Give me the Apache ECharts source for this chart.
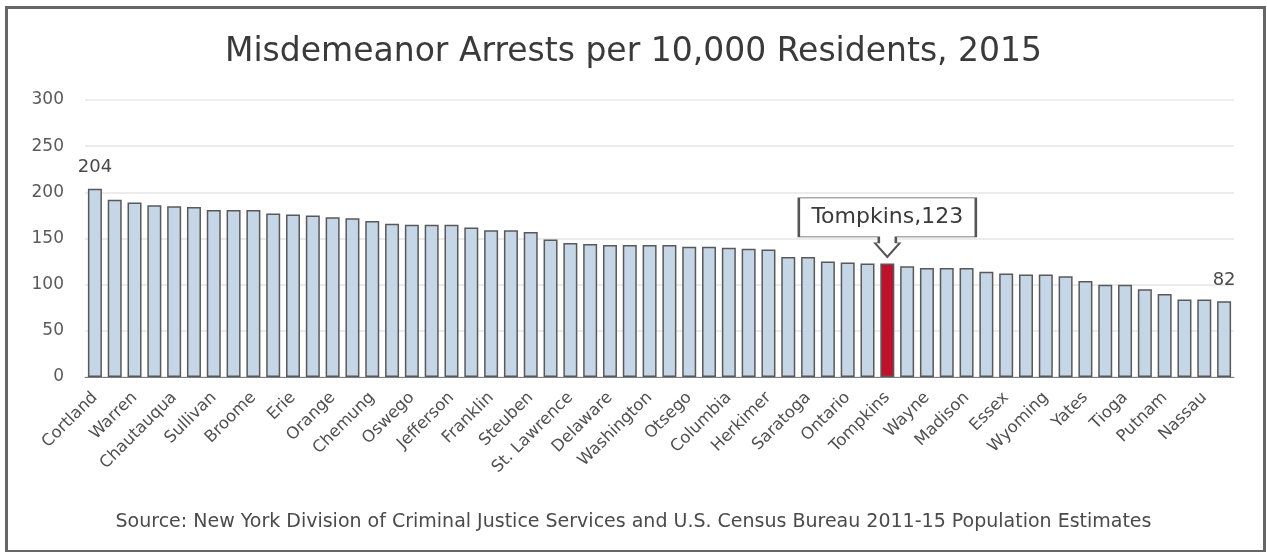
<!DOCTYPE html>
<html>
<head>
<meta charset="utf-8">
<title>Misdemeanor Arrests per 10,000 Residents, 2015</title>
<script src="https://cdn.jsdelivr.net/npm/echarts@6/dist/echarts.min.js"></script>
<style>
  html, body { margin: 0; padding: 0; background: #fff; }
  #main { width: 1267px; height: 552px; }
</style>
</head>
<body>
<div id="main"></div>
<script>
// counties, sorted by rate (every other name is shown on the axis)
var counties = [
  'Cortland', 'Niagara', 'Warren', 'Fulton', 'Chautauqua', 'Cattaraugus', 'Sullivan', 'Clinton',
  'Broome', 'Greene', 'Erie', 'Chenango', 'Orange', 'Montgomery', 'Chemung', 'Oneida',
  'Oswego', 'Schenectady', 'Jefferson', 'Albany', 'Franklin', 'Rensselaer', 'Steuben', 'Seneca',
  'St. Lawrence', 'Cayuga', 'Delaware', 'Allegany', 'Washington', 'Genesee', 'Otsego', 'Monroe',
  'Columbia', 'Ulster', 'Herkimer', 'Onondaga', 'Saratoga', 'Orleans', 'Ontario', 'Schuyler',
  'Tompkins', 'Lewis', 'Wayne', 'Dutchess', 'Madison', 'Livingston', 'Essex', 'Schoharie',
  'Wyoming', 'Hamilton', 'Yates', 'Suffolk', 'Tioga', 'New York City', 'Putnam', 'Westchester',
  'Nassau', 'Rockland'
];
var arrests = [
  204, 192, 189, 186, 185, 184, 181, 181,
  181, 177, 176, 175, 173, 172, 169, 166,
  165, 165, 165, 162, 159, 159, 157, 149,
  145, 144, 143, 143, 143, 143, 141, 141,
  140, 139, 138, 130, 130, 125, 124, 123,
  123, 120, 118, 118, 118, 114, 112, 111,
  111, 109, 104, 100, 100, 95, 90, 84,
  84, 82
];
var yTicks = [0, 50, 100, 150, 200, 250, 300];
var highlight = 'Tompkins';
var titleText = 'Misdemeanor Arrests per 10,000 Residents, 2015';
var sourceText = 'Source: New York Division of Criminal Justice Services and U.S. Census Bureau 2011-15 Population Estimates';

var fontName = 'DejaVu Sans';
var chart = echarts.init(document.getElementById('main'));

var hiIndex = counties.indexOf(highlight);
var lastIndex = arrests.length - 1;
var barData = arrests.map(function (v, i) {
  var item = { value: v };
  if (i === hiIndex) {
    item.itemStyle = { color: '#c0102c' };
  }
  if (i === 0 || i === lastIndex) {
    item.label = { show: true };
  }
  return item;
});

// callout box with a hollow arrow under it
var calloutPath = 'path://M0,0 H177 V39 H97 V45 H101 L88.5,59 L76,45 H80 V39 H0 Z';

var option = {
  backgroundColor: '#fff',
  animation: false,
  title: {
    text: titleText,
    left: 'center',
    top: 31,
    textStyle: {
      fontFamily: fontName,
      fontWeight: 'normal',
      fontSize: 33,
      color: '#3a3a3a'
    }
  },
  grid: {
    left: 85,
    right: 33,
    top: 100,
    bottom: 175,
    containLabel: false
  },
  xAxis: {
    type: 'category',
    data: counties,
    axisTick: { show: false },
    axisLine: { lineStyle: { color: '#7f7f7f', width: 1 } },
    axisLabel: {
      interval: 1,
      rotate: 45,
      margin: 18,
      fontFamily: fontName,
      fontSize: 16.5,
      color: '#505050'
    }
  },
  yAxis: {
    type: 'value',
    min: yTicks[0],
    max: yTicks[yTicks.length - 1],
    interval: yTicks[1] - yTicks[0],
    axisLine: { show: false },
    axisTick: { show: false },
    splitLine: { lineStyle: { color: '#e6e6e6', width: 1.5 } },
    axisLabel: {
      margin: 21,
      fontFamily: fontName,
      fontSize: 17,
      color: '#5a5a5a'
    }
  },
  series: [
    {
      type: 'bar',
      data: barData,
      barWidth: 14,
      itemStyle: {
        color: '#c5d6e6',
        borderColor: '#595959',
        borderWidth: 1.5
      },
      label: {
        show: false,
        position: 'top',
        distance: 12,
        fontFamily: fontName,
        fontSize: 18,
        color: '#4a4a4a'
      },
      markPoint: {
        symbol: calloutPath,
        symbolSize: [177, 59],
        symbolOffset: [0, -36],
        itemStyle: {
          color: '#fff',
          borderColor: '#555',
          borderWidth: 1.5
        },
        label: {
          show: true,
          position: 'inside',
          offset: [0, -10],
          fontFamily: fontName,
          fontSize: 22,
          color: '#3a3a3a',
          formatter: function (p) {
            return highlight + ',' + arrests[hiIndex];
          }
        },
        data: [
          { coord: [highlight, arrests[hiIndex]] }
        ]
      }
    }
  ],
  graphic: [
    {
      type: 'rect',
      left: 4,
      top: 5,
      shape: { width: 1258, height: 544 },
      style: { fill: 'none', stroke: '#666', lineWidth: 3 },
      silent: true
    },
    {
      type: 'text',
      left: 'center',
      top: 513,
      style: {
        text: sourceText,
        fontFamily: fontName,
        fontSize: 19,
        fill: '#4a4a4a'
      }
    }
  ]
};

chart.setOption(option);
</script>
</body>
</html>
